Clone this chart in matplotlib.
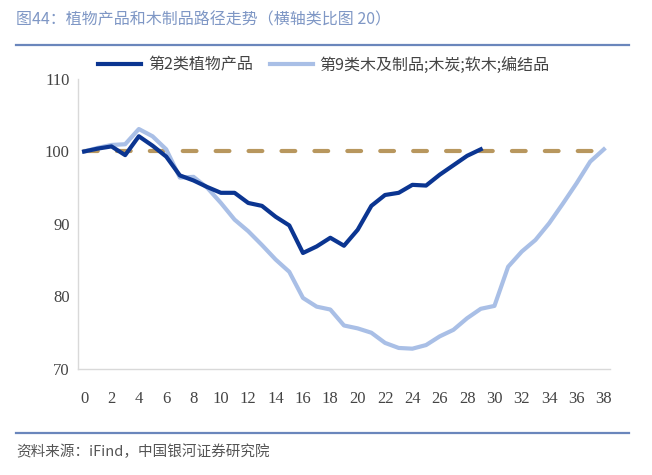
import numpy as np
import matplotlib
matplotlib.use('Agg')
import matplotlib.pyplot as plt

plt.rcParams['font.family'] = ['Noto Sans CJK SC', 'DejaVu Sans']

# 数据
x = list(range(0, 39))
plant = [100.0, 100.4, 100.7, 99.5, 102.1, 100.8, 99.3, 96.7, 96.0, 95.1,
         94.3, 94.3, 92.9, 92.5, 91.0, 89.8, 86.0, 86.9, 88.1, 87.0,
         89.2, 92.5, 94.0, 94.3, 95.4, 95.3, 96.8, 98.1, 99.4, 100.3]
wood = [100.0, 100.5, 100.9, 101.0, 103.1, 102.1, 100.3, 96.4, 96.5, 95.0,
        92.9, 90.6, 89.0, 87.1, 85.1, 83.4, 79.8, 78.6, 78.2, 76.0,
        75.6, 75.0, 73.6, 72.9, 72.8, 73.3, 74.5, 75.4, 77.0, 78.3,
        78.7, 84.1, 86.2, 87.8, 90.1, 92.8, 95.6, 98.6, 100.3]
base = [100] * len(x)
names = ['第2类植物产品', '第9类木及制品;木炭;软木;编结品']
xticks = list(range(0, 39, 2))
yticks = [70, 80, 90, 100, 110]

fig = plt.figure(figsize=(6.52, 4.75), dpi=100)
ax = fig.add_axes([0.1196, 0.2232, 0.816, 0.6105])

ax.plot(x, base, color='#B8975E', lw=3.0, dashes=(3.3, 4.6), dash_capstyle='round', zorder=1)
l1, = ax.plot(x[:len(plant)], plant, color='#0B3591', lw=3.0, zorder=3)
l2, = ax.plot(x, wood, color='#A9BFE6', lw=3.0, zorder=2)

ax.set_xlim(-0.45, 38.45)
ax.set_ylim(70, 110)
ax.set_xticks(xticks)
ax.set_yticks(yticks)
ax.tick_params(length=0, labelcolor='#444444', pad=6)
ax.tick_params(axis='x', pad=16)
for s in ['top', 'right']:
    ax.spines[s].set_visible(False)
for s in ['left', 'bottom']:
    ax.spines[s].set_color('#D9D9D9')
    ax.spines[s].set_linewidth(1.0)
for lab in ax.get_xticklabels() + ax.get_yticklabels():
    lab.set_family(['Liberation Serif', 'DejaVu Serif'])
    lab.set_fontsize(12)

fig.legend([l1, l2], names, loc='center', bbox_to_anchor=(0.497, 0.863), ncol=2,
           frameon=False, fontsize=11.5, handlelength=2.7, columnspacing=1.1,
           handletextpad=0.4, labelcolor='#444444')

fig.text(0.025, 0.958, '图44：植物产品和木制品路径走势（横轴类比图 20）', fontsize=11.5,
         color='#7F97C5', va='center', ha='left')
fig.add_artist(plt.Line2D([0.025, 0.965], [0.905, 0.905], color='#6A86BC', lw=1.6))
fig.add_artist(plt.Line2D([0.025, 0.965], [0.088, 0.088], color='#6A86BC', lw=1.6))
fig.text(0.025, 0.048, '资料来源：iFind，中国银河证券研究院', fontsize=10.5,
         color='#555555', va='center', ha='left')

fig.savefig('out.png', dpi=100)
